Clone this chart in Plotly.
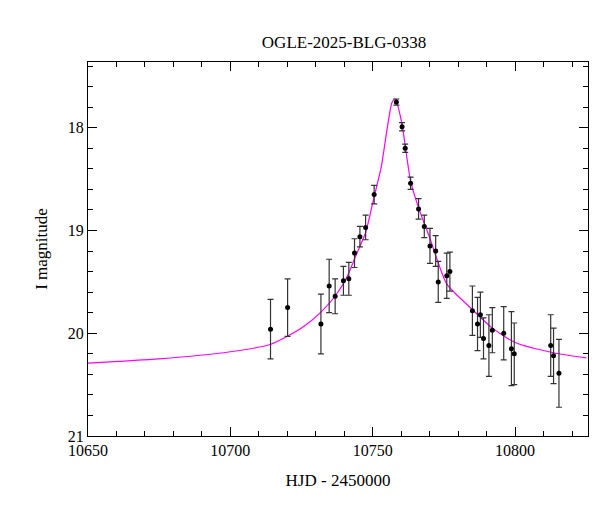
import plotly.graph_objects as go

# observations: HJD-2450000, I mag, error
hjd = [10714.1, 10720.1, 10731.8, 10734.7, 10736.8, 10739.7, 10741.6, 10743.6, 10745.5,
       10747.5, 10750.5, 10758.3, 10760.3, 10761.4, 10763.3, 10766.1, 10768.1, 10770.1,
       10772.1, 10773.0, 10776.0, 10777.1, 10785.0, 10786.8, 10787.8, 10788.9, 10790.8,
       10792.0, 10796.0, 10798.7, 10799.7, 10812.5, 10813.5, 10815.4]
mag = [19.96, 19.75, 19.91, 19.54, 19.64, 19.49, 19.47, 19.22, 19.06,
       18.97, 18.65, 17.75, 17.99, 18.20, 18.54, 18.79, 18.96, 19.15,
       19.20, 19.50, 19.44, 19.40, 19.78, 19.91, 19.82, 20.05, 20.12,
       19.97, 20.00, 20.15, 20.20, 20.12, 20.22, 20.39]
err = [0.29, 0.28, 0.29, 0.26, 0.17, 0.14, 0.16, 0.14, 0.10,
       0.12, 0.09, 0.03, 0.04, 0.04, 0.06, 0.10, 0.11, 0.17,
       0.15, 0.20, 0.22, 0.19, 0.24, 0.26, 0.22, 0.20, 0.30,
       0.22, 0.26, 0.36, 0.30, 0.30, 0.27, 0.33]

# model curve
model_t = [10650, 10675, 10700, 10714, 10720, 10726, 10732, 10737, 10741, 10744, 10747.5,
           10750.5, 10753, 10755, 10756.7, 10757.7, 10758.5, 10760.3, 10763.3, 10766.1,
           10770, 10776, 10785, 10792, 10800, 10813.5, 10825]
model_m = [20.29, 20.25, 20.18, 20.11, 20.03, 19.93, 19.79, 19.63, 19.45, 19.25, 19.02,
           18.67, 18.38, 18.02, 17.76, 17.72, 17.76, 17.97, 18.52, 18.78,
           19.07, 19.52, 19.77, 19.95, 20.09, 20.19, 20.24]

font = "Liberation Serif, DejaVu Serif, serif"

fig = go.Figure()
fig.add_trace(go.Scatter(x=model_t, y=model_m, mode="lines",
                         line=dict(color="#ff00ff", width=1.2, shape="spline", smoothing=0.6)))
fig.add_trace(go.Scatter(x=hjd, y=mag, mode="markers",
                         marker=dict(color="black", size=5),
                         error_y=dict(type="data", array=err, color="#333333",
                                      thickness=1.2, width=3)))

axis = dict(showline=True, linecolor="black", linewidth=1, mirror="allticks",
            ticks="inside", ticklen=9, tickcolor="black", showgrid=False, zeroline=False,
            tickfont=dict(size=16, family=font, color="black"))
fig.update_xaxes(range=[10650, 10825.6], dtick=50, tickformat="d", title_text="HJD - 2450000",
                 title_font=dict(size=17, family=font, color="black"),
                 minor=dict(dtick=10, ticks="inside", ticklen=5, tickcolor="black"), **axis)
fig.update_yaxes(range=[21, 17.36], dtick=1, title_text="I magnitude",
                 title_font=dict(size=17, family=font, color="black"),
                 minor=dict(dtick=0.2, ticks="inside", ticklen=5, tickcolor="black"), **axis)
fig.update_layout(
    width=600, height=512, showlegend=False,
    plot_bgcolor="white", paper_bgcolor="white",
    margin=dict(l=80, r=20, t=54, b=84),
    title=dict(text="OGLE-2025-BLG-0338", x=0.56, xanchor="center", y=0.945,
               font=dict(size=17, family=font, color="black")),
)
fig.write_html("out.html")
